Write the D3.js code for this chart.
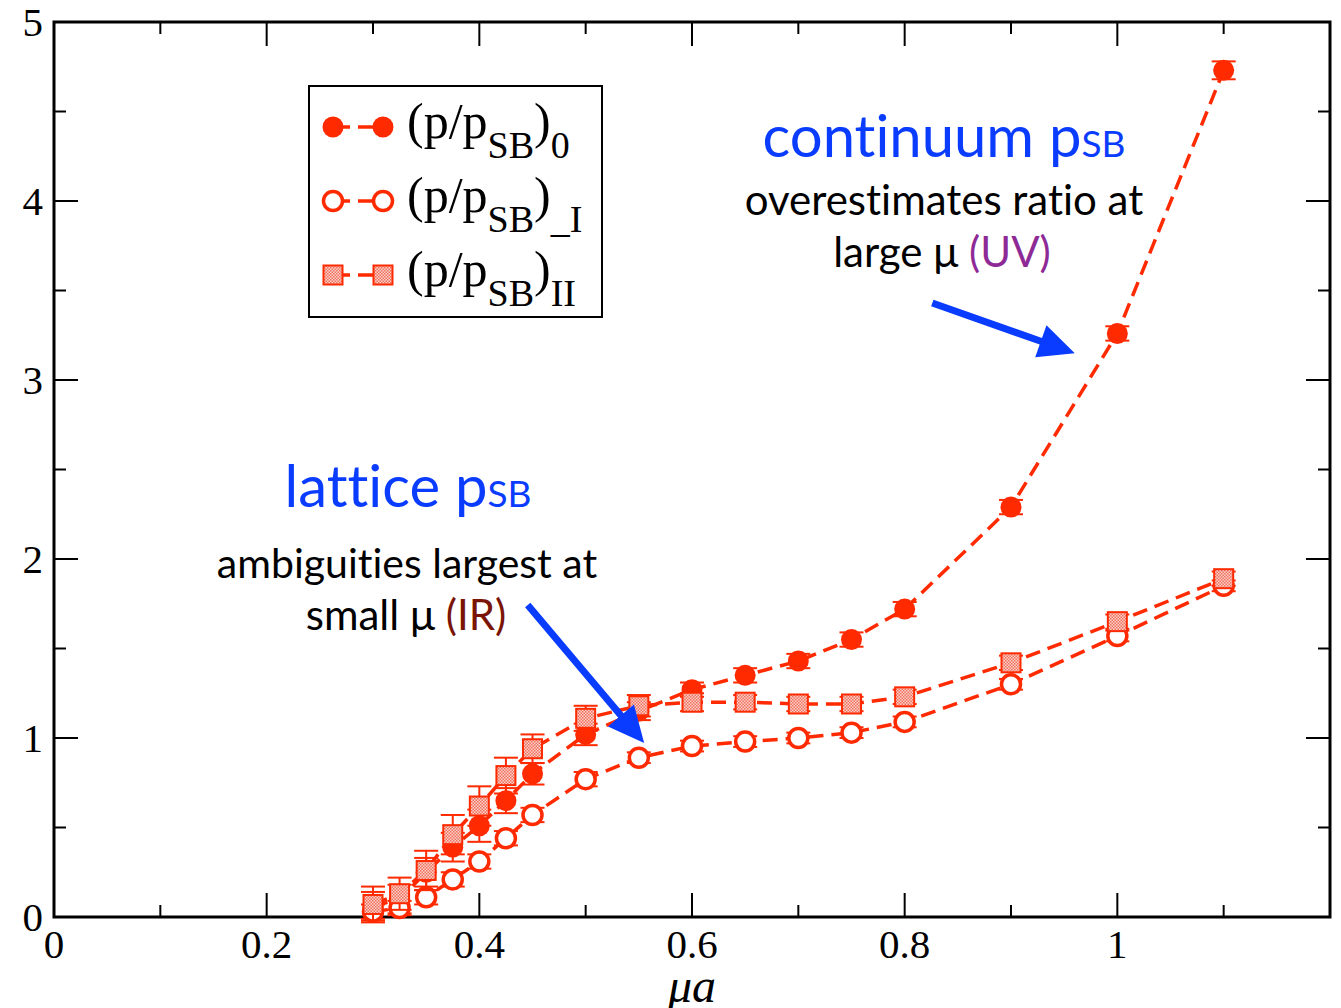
<!DOCTYPE html>
<html>
<head>
<meta charset="utf-8">
<title>p/pSB vs mu a</title>
<script src="https://cdn.jsdelivr.net/npm/d3@7"></script>
<style>
  body { margin: 0; background: #fff; }
  .tick-label { font-family: "Liberation Serif", "Times New Roman", serif; font-size: 41px; fill: #000; }
  .legend-text { font-family: "Liberation Serif", "Times New Roman", serif; fill: #000; }
  .note { font-family: Lato, "Open Sans", sans-serif; font-variant-ligatures: none; }
</style>
</head>
<body>
<script>
// mu*a values shared by all three sets
var muA = [0.3, 0.325, 0.35, 0.375, 0.4, 0.425, 0.45, 0.5, 0.55, 0.6, 0.65, 0.7, 0.75, 0.8, 0.9, 1.0, 1.1];

// (p/pSB)_0  filled circles
var ratio0 = [0.06, 0.10, 0.25, 0.39, 0.51, 0.65, 0.80, 1.02, 1.15, 1.27, 1.35, 1.43, 1.55, 1.72, 2.29, 3.26, 4.73];
var err0   = [0.08, 0.08, 0.08, 0.08, 0.09, 0.07, 0.06, 0.06, 0.05, 0.04, 0.04, 0.04, 0.04, 0.04, 0.04, 0.04, 0.05];

// (p/pSB)_I  open circles
var ratioI = [0.03, 0.05, 0.11, 0.21, 0.31, 0.44, 0.57, 0.77, 0.89, 0.955, 0.98, 1.00, 1.03, 1.09, 1.30, 1.57, 1.85];
var errI   = [0.04, 0.04, 0.04, 0.04, 0.04, 0.04, 0.04, 0.04, 0.03, 0.03, 0.03, 0.03, 0.03, 0.03, 0.03, 0.03, 0.03];

// (p/pSB)_II  hatched squares
var ratioII = [0.07, 0.13, 0.26, 0.46, 0.62, 0.79, 0.94, 1.11, 1.18, 1.20, 1.20, 1.19, 1.19, 1.23, 1.42, 1.65, 1.89];
var errII   = [0.10, 0.09, 0.11, 0.11, 0.11, 0.10, 0.08, 0.07, 0.06, 0.05, 0.04, 0.04, 0.04, 0.04, 0.04, 0.04, 0.04];

var xMajor = [0, 0.2, 0.4, 0.6, 0.8, 1];
var xMinor = [0.1, 0.3, 0.5, 0.7, 0.9, 1.1];
var yMajor = [0, 1, 2, 3, 4, 5];
var yMinor = [0.5, 1.5, 2.5, 3.5, 4.5];

var red = "#ff2a00", blue = "#0a3cff";

var W = 1341, H = 1008;
var pLeft = 54, pRight = 1330, pTop = 22, pBottom = 917;

var svg = d3.select("body").append("svg").attr("width", W).attr("height", H);

var x = d3.scaleLinear().domain([0, 1.2]).range([pLeft, pRight]);
var y = d3.scaleLinear().domain([0, 5]).range([pBottom, pTop]);

// pattern for the squares (pink dotted fill)
var pat = svg.append("defs").append("pattern")
    .attr("id", "dots").attr("patternUnits", "userSpaceOnUse")
    .attr("width", 3).attr("height", 3);
pat.append("rect").attr("width", 3).attr("height", 3).attr("fill", "#fbd0c8");
pat.append("rect").attr("width", 1.5).attr("height", 1.5).attr("fill", "#f0705c");
pat.append("rect").attr("x", 1.5).attr("y", 1.5).attr("width", 1.5).attr("height", 1.5).attr("fill", "#f0705c");

// ticks on all four sides, pointing inwards
var axisG = svg.append("g");
function ticks(vals, len) {
  vals.forEach(function (v) {
    axisG.append("line").attr("x1", x(v)).attr("x2", x(v)).attr("y1", pBottom).attr("y2", pBottom - len);
    axisG.append("line").attr("x1", x(v)).attr("x2", x(v)).attr("y1", pTop).attr("y2", pTop + len);
  });
}
function yticks(vals, len) {
  vals.forEach(function (v) {
    axisG.append("line").attr("y1", y(v)).attr("y2", y(v)).attr("x1", pLeft).attr("x2", pLeft + len);
    axisG.append("line").attr("y1", y(v)).attr("y2", y(v)).attr("x1", pRight).attr("x2", pRight - len);
  });
}
ticks(xMajor, 24); ticks(xMinor, 12);
yticks(yMajor, 24); yticks(yMinor, 12);
axisG.selectAll("line").attr("stroke", "#000").attr("stroke-width", 2);

axisG.append("rect").attr("x", pLeft).attr("y", pTop)
  .attr("width", pRight - pLeft).attr("height", pBottom - pTop)
  .attr("fill", "none").attr("stroke", "#000").attr("stroke-width", 3);

svg.selectAll(".xl").data(xMajor).enter().append("text")
  .attr("class", "tick-label").attr("x", function (d) { return x(d); }).attr("y", 958)
  .attr("text-anchor", "middle").text(function (d) { return d; });
svg.selectAll(".yl").data(yMajor).enter().append("text")
  .attr("class", "tick-label").attr("x", 43).attr("y", function (d) { return y(d) + 14; })
  .attr("text-anchor", "end").text(function (d) { return d; });

svg.append("text").attr("x", x(0.6)).attr("y", 1002).attr("text-anchor", "middle")
  .attr("font-family", "Liberation Serif, serif").attr("font-style", "italic").attr("font-size", 48)
  .text("μa");

// data sets
var line = d3.line().x(function (d) { return x(d[0]); }).y(function (d) { return y(d[1]); });

function drawSet(vals, errs, kind) {
  var pts = muA.map(function (m, i) { return [m, vals[i], errs[i]]; });
  var g = svg.append("g");
  g.append("path").attr("d", line(pts)).attr("fill", "none")
    .attr("stroke", red).attr("stroke-width", 3.5).attr("stroke-dasharray", "15,8");
  pts.forEach(function (p) {
    var cx = x(p[0]), y1 = y(p[1] + p[2]), y2 = y(p[1] - p[2]);
    g.append("line").attr("x1", cx).attr("x2", cx).attr("y1", y1).attr("y2", y2);
    g.append("line").attr("x1", cx - 12).attr("x2", cx + 12).attr("y1", y1).attr("y2", y1);
    g.append("line").attr("x1", cx - 12).attr("x2", cx + 12).attr("y1", y2).attr("y2", y2);
  });
  g.selectAll("line").attr("stroke", red).attr("stroke-width", 2);
  pts.forEach(function (p) { marker(g, x(p[0]), y(p[1]), kind); });
}

function marker(g, cx, cy, kind) {
  if (kind === "filled") {
    g.append("circle").attr("cx", cx).attr("cy", cy).attr("r", 10.5).attr("fill", red);
  } else if (kind === "open") {
    g.append("circle").attr("cx", cx).attr("cy", cy).attr("r", 9.5)
      .attr("fill", "#fff").attr("stroke", red).attr("stroke-width", 3.5);
  } else {
    g.append("rect").attr("x", cx - 9.5).attr("y", cy - 9.5).attr("width", 19).attr("height", 19)
      .attr("fill", "url(#dots)").attr("stroke", red).attr("stroke-width", 2);
  }
}

drawSet(ratio0, err0, "filled");
drawSet(ratioI, errI, "open");
drawSet(ratioII, errII, "square");

// legend
svg.append("rect").attr("x", 309).attr("y", 86).attr("width", 293).attr("height", 231)
  .attr("fill", "#fff").attr("stroke", "#000").attr("stroke-width", 2);
var legendRows = [
  { kind: "filled", sub: "0" },
  { kind: "open", sub: "_I" },
  { kind: "square", sub: "II" }
];
legendRows.forEach(function (r, i) {
  var cy = 127 + i * 74;
  var lg = svg.append("g");
  lg.append("line").attr("x1", 333).attr("x2", 383).attr("y1", cy).attr("y2", cy)
    .attr("stroke", red).attr("stroke-width", 3.5).attr("stroke-dasharray", "15,8").attr("stroke-dashoffset", -2);
  marker(lg, 333, cy, r.kind);
  marker(lg, 383, cy, r.kind);
  var t = lg.append("text").attr("class", "legend-text").attr("x", 407).attr("y", cy + 11).attr("font-size", 50);
  t.append("tspan").text("(p/p");
  t.append("tspan").attr("font-size", 38).attr("dy", 20).text("SB");
  t.append("tspan").attr("dy", -20).text(")");
  t.append("tspan").attr("font-size", 38).attr("dy", 20).text(r.sub);
});

// annotations
function note(xp, yp, parts, size, anchor) {
  var t = svg.append("text").attr("class", "note").attr("x", xp).attr("y", yp)
    .attr("font-size", size).attr("text-anchor", anchor);
  parts.forEach(function (p) {
    t.append("tspan").attr("fill", p[1]).attr("font-size", p[2] || size).text(p[0]);
  });
}
note(944, 157, [["continuum p", blue], ["SB", blue, 37]], 58, "middle");
note(944, 215, [["overestimates ratio at", "#000"]], 42, "middle");
note(942, 267, [["large μ ", "#000"], ["(UV)", "#8e2a96"]], 42, "middle");
note(408, 507, [["lattice p", blue], ["SB", blue, 37]], 58, "middle");
note(407, 578, [["ambiguities largest at", "#000"]], 41, "middle");
note(406, 630, [["small μ ", "#000"], ["(IR)", "#7a1406"]], 42, "middle");

// arrows
function arrow(x0, y0, x1, y1) {
  var a = Math.atan2(y1 - y0, x1 - x0), L = Math.hypot(x1 - x0, y1 - y0);
  var hl = 36, hw = 17, sw = 3.5;
  var pts = [[0, -sw], [L - hl, -sw], [L - hl, -hw], [L, 0], [L - hl, hw], [L - hl, sw], [0, sw]];
  var p = pts.map(function (q) {
    return [x0 + q[0] * Math.cos(a) - q[1] * Math.sin(a), y0 + q[0] * Math.sin(a) + q[1] * Math.cos(a)];
  });
  svg.append("polygon").attr("points", p.map(function (q) { return q.join(","); }).join(" "))
    .attr("fill", blue);
}
arrow(x(0.826), y(3.43), x(0.960), y(3.15));
arrow(x(0.4455), y(1.743), x(0.555), y(0.972));
</script>
</body>
</html>
